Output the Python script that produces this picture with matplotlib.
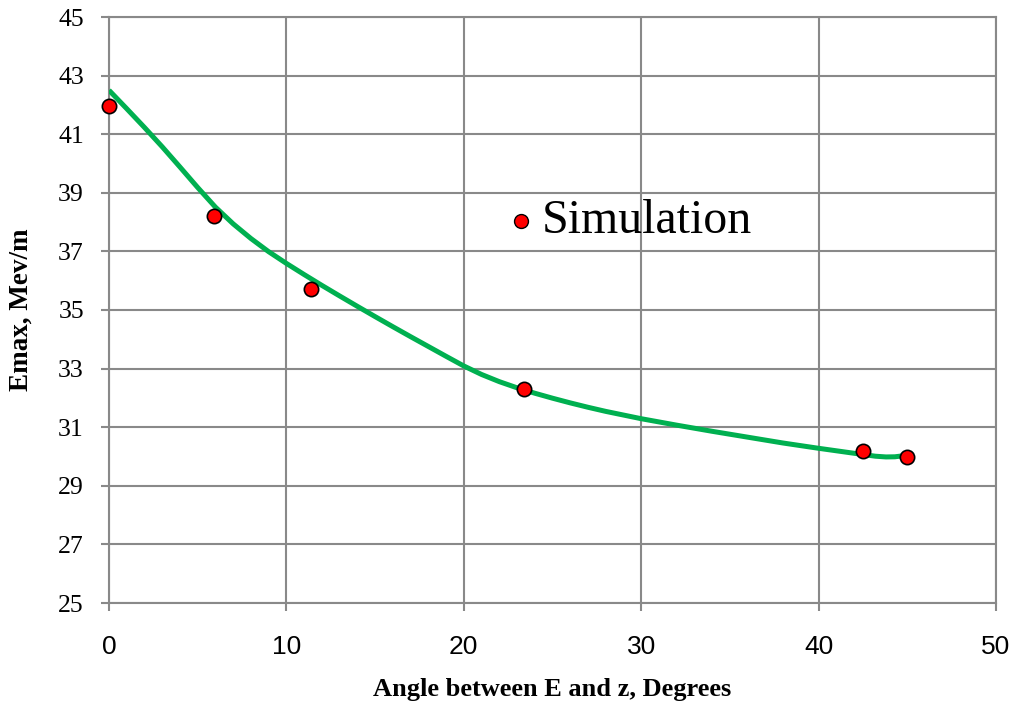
import matplotlib
matplotlib.use("Agg")
import matplotlib.pyplot as plt

# Simulation points (angle in degrees, Emax in MeV/m)
sim_angle = [0, 5.9, 11.4, 23.4, 42.5, 45]
sim_emax = [41.95, 38.22, 35.71, 32.29, 30.2, 30.0]

# Smoothed fit curve (one reading per degree)
fit_angle = [0, 1, 2, 3, 4, 5, 6, 7, 8, 9, 10, 11, 12, 13, 14, 15, 16, 17, 18,
             19, 20, 21, 22, 23, 24, 25, 26, 27, 28, 29, 30, 31, 32, 33, 34, 35,
             36, 37, 38, 39, 40, 41, 42, 42.6, 43.2, 43.8, 44.3, 44.7]
fit_emax = [42.5, 41.87, 41.23, 40.57, 39.88, 39.18, 38.51, 37.94, 37.44, 36.99,
            36.59, 36.21, 35.84, 35.48, 35.125, 34.775, 34.43, 34.09, 33.755,
            33.42, 33.09, 32.8, 32.555, 32.345, 32.16, 31.99, 31.83, 31.68, 31.54,
            31.415, 31.29, 31.18, 31.07, 30.965, 30.86, 30.76, 30.66, 30.56, 30.46,
            30.37, 30.28, 30.195, 30.11, 30.06, 30.01, 29.985, 29.99, 30.02]

xticks = [0, 10, 20, 30, 40, 50]
yticks = [25, 27, 29, 31, 33, 35, 37, 39, 41, 43, 45]

grid_col = "#898989"

fig = plt.figure(figsize=(10.12, 7.04), dpi=100)
ax = fig.add_axes([109 / 1012, 1 - 603 / 704, (996 - 109) / 1012, (603 - 17) / 704])

ax.plot(fit_angle, fit_emax, color="#00B050", lw=3.6, solid_capstyle="butt",
        solid_joinstyle="round", zorder=3)
ax.plot(sim_angle, sim_emax, "o", color="red", mec="black", mew=1.2, ms=10.3,
        zorder=4, clip_on=False)

ax.set_xlim(0, 50)
ax.set_ylim(25, 45)
ax.set_xticks(xticks)
ax.set_yticks(yticks)
ax.grid(True, color=grid_col, lw=1.5)
ax.set_axisbelow(True)
for s in ax.spines.values():
    s.set_color(grid_col)
    s.set_linewidth(1.5)

ax.tick_params(axis="both", color=grid_col, width=1.5, length=6)
ax.tick_params(axis="y", pad=12)
ax.tick_params(axis="x", pad=17)
for lab in ax.get_yticklabels():
    lab.set_family("Liberation Serif")
    lab.set_fontsize(18.5)
for lab in ax.get_xticklabels():
    lab.set_family(["Liberation Sans Narrow", "Liberation Sans", "DejaVu Sans"])
    lab.set_fontsize(19)

ax.set_xlabel("Angle between E and z, Degrees", family="Liberation Serif",
              fontweight="bold", fontsize=19, labelpad=14)
ax.set_ylabel("Emax, Mev/m", family="Liberation Serif", fontweight="bold",
              fontsize=19.5, labelpad=18)

# legend drawn as a marker plus text, like the original
ax.plot([23.2], [38.05], "o", color="red", mec="black", mew=1.0, ms=10, zorder=4)
ax.text(24.4, 38.05, "Simulation", family="Liberation Serif", fontsize=34.5,
        va="center", ha="left")

fig.savefig("out.png", dpi=100)
